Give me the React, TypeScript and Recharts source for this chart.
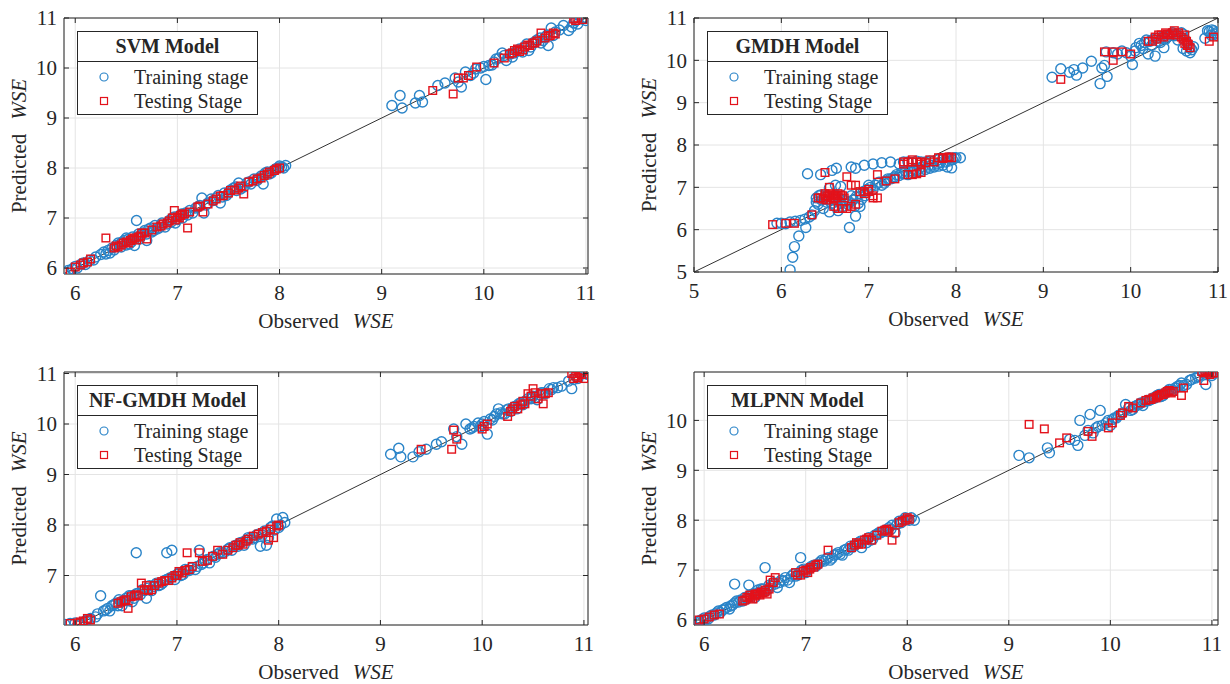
import { ScatterChart, Scatter, XAxis, YAxis, CartesianGrid, ReferenceLine, Legend } from 'recharts';

type Pt = [number, number];

const svmTrain: Pt[] = [
  [5.9, 5.9], [5.93, 5.95], [5.97, 5.98], [6.02, 6.0], [6.06, 6.08], [6.1, 6.07], [6.14, 6.15], [6.2, 6.22],
  [6.25, 6.27], [6.28, 6.32], [6.32, 6.35], [6.36, 6.4], [6.4, 6.45], [6.42, 6.5], [6.45, 6.42], [6.48, 6.55],
  [6.5, 6.6], [6.53, 6.48], [6.56, 6.62], [6.58, 6.45], [6.6, 6.95], [6.62, 6.68], [6.66, 6.7], [6.7, 6.55],
  [6.72, 6.78], [6.75, 6.72], [6.78, 6.85], [6.82, 6.8], [6.85, 6.9], [6.88, 6.82], [6.92, 6.95], [6.95, 7.0],
  [6.98, 6.9], [7.02, 7.05], [7.05, 7.0], [7.08, 7.1], [7.12, 7.15], [7.15, 7.1], [7.2, 7.22], [7.24, 7.4],
  [7.26, 7.1], [7.3, 7.3], [7.35, 7.35], [7.4, 7.45], [7.42, 7.3], [7.46, 7.5], [7.5, 7.5], [7.55, 7.6],
  [7.58, 7.55], [7.6, 7.7], [7.65, 7.62], [7.7, 7.72], [7.75, 7.78], [7.8, 7.8], [7.84, 7.68], [7.86, 7.9],
  [7.9, 7.88], [7.94, 7.95], [7.98, 8.0], [8.02, 8.02], [8.06, 8.05],
  [6.0, 6.03], [6.08, 6.1], [6.18, 6.16], [6.3, 6.28], [6.34, 6.3], [6.38, 6.36], [6.44, 6.48], [6.46, 6.52],
  [6.5, 6.46], [6.52, 6.58], [6.55, 6.52], [6.6, 6.62], [6.63, 6.58], [6.65, 6.66], [6.68, 6.75], [6.7, 6.68],
  [6.74, 6.8], [6.77, 6.75], [6.8, 6.78], [6.84, 6.86], [6.9, 6.88], [6.94, 6.92], [6.97, 7.02], [7.0, 6.97],
  [7.04, 7.08], [7.1, 7.06], [7.18, 7.2], [7.22, 7.25], [7.28, 7.26], [7.33, 7.38], [7.38, 7.4], [7.44, 7.42],
  [7.48, 7.45], [7.52, 7.56], [7.57, 7.62], [7.62, 7.58], [7.68, 7.7], [7.72, 7.68], [7.78, 7.75], [7.82, 7.84],
  [7.88, 7.92], [7.92, 7.9], [7.96, 7.98], [8.0, 8.04], [8.04, 8.0],
  [9.1, 9.25], [9.18, 9.45], [9.2, 9.2], [9.33, 9.3], [9.37, 9.45], [9.4, 9.32], [9.55, 9.65], [9.62, 9.7],
  [9.72, 9.8], [9.78, 9.62], [9.82, 9.92], [9.87, 9.85], [9.92, 9.98], [9.97, 10.0], [10.02, 9.77], [10.05, 10.05],
  [10.1, 10.12], [10.15, 10.2], [10.18, 10.3], [10.22, 10.15], [10.26, 10.28], [10.3, 10.3], [10.35, 10.38],
  [10.4, 10.42], [10.44, 10.35], [10.48, 10.5], [10.52, 10.56], [10.56, 10.5], [10.6, 10.62], [10.63, 10.45],
  [10.66, 10.8], [10.7, 10.72], [10.78, 10.85], [10.83, 10.75], [10.88, 10.9], [10.92, 10.88], [10.96, 10.98],
  [11.0, 10.95], [11.01, 11.0],
  [9.75, 9.72], [9.9, 9.9], [10.0, 10.03], [10.08, 10.06], [10.12, 10.18], [10.2, 10.25], [10.28, 10.22],
  [10.32, 10.34], [10.38, 10.32], [10.42, 10.48], [10.46, 10.42], [10.5, 10.52], [10.55, 10.6], [10.58, 10.55],
  [10.62, 10.66], [10.68, 10.65], [10.74, 10.76], [10.86, 10.82], [10.9, 10.95], [10.98, 11.0],
];
const svmTest: Pt[] = [
  [5.95, 5.92], [6.0, 6.02], [6.08, 6.1], [6.12, 6.12], [6.15, 6.18], [6.3, 6.6], [6.38, 6.4], [6.42, 6.42],
  [6.47, 6.5], [6.5, 6.52], [6.54, 6.55], [6.58, 6.6], [6.62, 6.62], [6.65, 6.7], [6.7, 6.58], [6.8, 6.82],
  [6.86, 6.88], [6.9, 6.9], [6.95, 7.0], [6.97, 7.15], [7.0, 7.02], [7.03, 7.05], [7.07, 7.08], [7.1, 6.8],
  [7.2, 7.22], [7.25, 7.12], [7.3, 7.28], [7.38, 7.38], [7.45, 7.45], [7.52, 7.55], [7.6, 7.6], [7.65, 7.48],
  [7.7, 7.72], [7.78, 7.78], [7.85, 7.85], [7.9, 7.92], [7.95, 7.95], [8.0, 8.0],
  [6.05, 6.06], [6.4, 6.44], [6.45, 6.46], [6.52, 6.5], [6.56, 6.58], [6.6, 6.56], [6.64, 6.64], [6.68, 6.7],
  [6.75, 6.76], [6.84, 6.84], [6.92, 6.94], [6.98, 6.96], [7.02, 7.0], [7.05, 7.08], [7.12, 7.12], [7.22, 7.24],
  [7.35, 7.34], [7.42, 7.44], [7.5, 7.5], [7.56, 7.56], [7.62, 7.64], [7.74, 7.74], [7.82, 7.8], [7.88, 7.88],
  [7.97, 7.98],
  [9.5, 9.55], [9.7, 9.48], [9.8, 9.8], [9.93, 10.02], [10.1, 10.1], [10.25, 10.28], [10.3, 10.35], [10.35, 10.33],
  [10.4, 10.42], [10.45, 10.45], [10.5, 10.5], [10.56, 10.7], [10.6, 10.6], [10.65, 10.65], [10.7, 10.68],
  [10.88, 10.98], [10.92, 11.0], [10.97, 10.97],
  [9.75, 9.8], [9.85, 9.85], [10.2, 10.2], [10.28, 10.3], [10.33, 10.38], [10.38, 10.36], [10.43, 10.46],
  [10.48, 10.5], [10.52, 10.54], [10.63, 10.64], [10.68, 10.7], [10.9, 10.95],
];

const gmdhTrain: Pt[] = [
  [6.1, 5.05], [6.13, 5.35], [6.15, 5.6], [6.2, 5.85], [6.28, 6.05], [5.95, 6.15], [6.0, 6.15], [6.05, 6.14],
  [6.1, 6.18], [6.16, 6.2], [6.22, 6.22], [6.27, 6.25], [6.32, 6.3], [6.35, 6.35], [6.38, 6.45], [6.4, 6.75],
  [6.42, 6.6], [6.45, 6.82], [6.48, 6.5], [6.52, 6.65], [6.55, 6.42], [6.58, 6.75], [6.62, 6.55], [6.65, 6.45],
  [6.68, 6.62], [6.72, 6.7], [6.76, 6.6], [6.8, 6.8], [6.84, 6.55], [6.88, 6.62], [6.92, 6.72], [6.96, 6.8],
  [6.3, 7.32], [6.45, 7.3], [6.58, 7.4], [6.63, 7.45], [6.8, 7.48], [6.85, 7.45], [6.95, 7.52], [7.05, 7.55],
  [7.15, 7.58], [7.25, 7.6], [6.68, 7.02], [6.55, 6.98], [6.62, 7.05], [6.78, 6.05], [6.85, 6.32], [6.9, 6.55],
  [7.0, 7.05], [7.05, 6.95], [7.1, 7.1], [7.15, 7.05], [7.2, 7.15], [7.25, 7.2], [7.3, 7.25], [7.35, 7.28],
  [7.4, 7.32], [7.45, 7.3], [7.5, 7.35], [7.55, 7.38], [7.6, 7.4], [7.65, 7.42], [7.7, 7.45], [7.75, 7.48],
  [7.8, 7.5], [7.85, 7.52], [7.9, 7.48], [7.95, 7.46], [7.45, 7.6], [7.55, 7.62], [7.65, 7.6], [7.85, 7.68],
  [7.92, 7.7], [7.98, 7.7], [8.05, 7.7],
  [6.4, 6.65], [6.43, 6.8], [6.46, 6.7], [6.5, 6.78], [6.52, 6.8], [6.55, 6.7], [6.58, 6.62], [6.6, 6.7],
  [6.62, 6.8], [6.66, 6.75], [6.7, 6.55], [6.74, 6.68], [6.78, 6.65], [6.82, 6.7], [6.86, 6.78], [6.9, 6.85],
  [6.94, 6.9], [6.98, 6.95], [7.02, 7.0], [7.08, 7.05], [7.12, 7.12], [7.18, 7.1], [7.22, 7.2], [7.28, 7.22],
  [7.32, 7.3], [7.38, 7.35], [7.42, 7.38], [7.48, 7.4], [7.52, 7.42], [7.58, 7.45], [7.62, 7.48], [7.68, 7.5],
  [7.72, 7.52], [7.78, 7.55], [7.82, 7.58], [7.88, 7.6], [7.92, 7.62], [7.96, 7.65], [8.0, 7.7], [7.35, 7.55],
  [7.4, 7.6], [7.5, 7.58], [7.6, 7.6], [7.7, 7.62], [7.8, 7.65],
  [9.1, 9.6], [9.2, 9.8], [9.3, 9.72], [9.35, 9.78], [9.38, 9.65], [9.45, 9.82], [9.55, 9.98], [9.65, 9.45],
  [9.67, 9.82], [9.7, 9.88], [9.73, 9.62], [9.72, 10.2], [9.8, 10.18], [9.85, 10.15], [9.9, 10.22], [9.95, 10.18],
  [10.0, 10.1], [10.02, 9.9], [10.06, 10.3], [10.1, 10.4], [10.14, 10.28], [10.18, 10.48], [10.2, 10.15],
  [10.24, 10.35], [10.28, 10.1], [10.3, 10.52], [10.34, 10.42], [10.38, 10.3], [10.42, 10.55], [10.46, 10.62],
  [10.5, 10.58], [10.54, 10.48], [10.58, 10.65], [10.6, 10.28], [10.64, 10.22], [10.68, 10.18], [10.72, 10.32],
  [10.85, 10.52], [10.88, 10.7], [10.92, 10.6], [10.95, 10.7], [10.98, 10.65], [11.0, 10.58],
  [10.05, 10.22], [10.12, 10.35], [10.16, 10.42], [10.22, 10.45], [10.26, 10.5], [10.32, 10.45], [10.36, 10.55],
  [10.4, 10.5], [10.44, 10.6], [10.48, 10.65], [10.52, 10.62], [10.56, 10.58], [10.6, 10.62], [10.62, 10.5],
  [10.65, 10.4], [10.68, 10.3], [10.7, 10.25], [10.9, 10.68], [10.93, 10.72], [10.96, 10.62],
];
const gmdhTest: Pt[] = [
  [5.9, 6.12], [6.05, 6.15], [6.15, 6.15], [6.35, 6.35], [6.45, 6.75], [6.5, 6.8], [6.52, 6.7], [6.55, 6.85],
  [6.6, 6.8], [6.62, 6.75], [6.65, 6.85], [6.7, 6.8], [6.5, 7.35], [6.55, 7.0], [6.75, 7.25], [6.8, 7.05],
  [6.85, 7.05], [6.95, 6.9], [7.0, 6.9], [7.05, 6.75], [7.1, 6.75], [7.1, 7.3], [6.7, 6.5], [6.8, 6.55],
  [6.85, 6.6], [6.65, 6.5], [7.2, 7.15], [7.3, 7.2], [7.4, 7.6], [7.45, 7.6], [7.5, 7.65], [7.55, 7.6],
  [7.6, 7.55], [7.7, 7.65], [7.75, 7.6], [7.8, 7.7], [7.85, 7.7], [7.9, 7.7], [7.95, 7.7], [7.45, 7.3], [7.5, 7.3],
  [6.42, 6.75], [6.48, 6.72], [6.5, 6.85], [6.53, 6.78], [6.56, 6.75], [6.58, 6.82], [6.6, 6.72], [6.63, 6.8],
  [6.68, 6.82], [6.72, 6.75], [6.9, 6.9], [6.95, 6.85], [7.0, 6.95], [7.05, 6.8], [6.6, 6.55], [6.75, 6.5],
  [7.4, 7.55], [7.5, 7.6], [7.6, 7.6], [7.65, 7.58], [7.85, 7.68], [7.92, 7.72], [7.55, 7.32], [7.6, 7.35],
  [9.2, 9.55], [9.7, 10.2], [9.8, 10.2], [9.8, 10.0], [9.9, 10.2], [10.0, 10.15], [10.2, 10.45], [10.3, 10.5],
  [10.35, 10.6], [10.4, 10.65], [10.45, 10.6], [10.5, 10.7], [10.55, 10.65], [10.6, 10.5], [10.62, 10.4],
  [10.65, 10.35], [10.68, 10.3], [10.9, 10.45], [10.95, 10.55],
  [10.25, 10.45], [10.28, 10.55], [10.32, 10.6], [10.38, 10.55], [10.42, 10.62], [10.48, 10.65], [10.52, 10.6],
  [10.58, 10.55], [10.62, 10.6], [10.64, 10.45], [10.66, 10.38],
];

const nfTrain: Pt[] = [
  [5.9, 6.03], [5.95, 6.05], [6.0, 6.06], [6.05, 6.03], [6.1, 6.1], [6.15, 6.15], [6.2, 6.18], [6.25, 6.6],
  [6.28, 6.3], [6.32, 6.35], [6.36, 6.4], [6.4, 6.45], [6.43, 6.52], [6.46, 6.4], [6.5, 6.55], [6.53, 6.6],
  [6.56, 6.48], [6.6, 7.45], [6.62, 6.65], [6.66, 6.72], [6.7, 6.55], [6.73, 6.8], [6.77, 6.78], [6.8, 6.85],
  [6.84, 6.82], [6.88, 6.9], [6.9, 7.45], [6.95, 7.5], [6.93, 6.95], [6.98, 6.92], [7.02, 7.05], [7.06, 7.02],
  [7.1, 7.1], [7.14, 7.15], [7.18, 7.12], [7.22, 7.5], [7.24, 7.22], [7.28, 7.3], [7.32, 7.25], [7.36, 7.38],
  [7.4, 7.42], [7.45, 7.45], [7.5, 7.52], [7.54, 7.5], [7.58, 7.6], [7.62, 7.65], [7.66, 7.6], [7.7, 7.75],
  [7.74, 7.72], [7.78, 7.8], [7.82, 7.58], [7.86, 7.88], [7.9, 7.75], [7.94, 7.98], [7.98, 8.12], [8.0, 7.95],
  [8.04, 8.15], [8.06, 8.05],
  [6.02, 6.0], [6.12, 6.12], [6.22, 6.24], [6.3, 6.32], [6.34, 6.3], [6.38, 6.42], [6.42, 6.4], [6.45, 6.48],
  [6.48, 6.5], [6.52, 6.5], [6.55, 6.6], [6.58, 6.55], [6.6, 6.64], [6.64, 6.62], [6.68, 6.7], [6.72, 6.75],
  [6.75, 6.7], [6.79, 6.82], [6.82, 6.8], [6.86, 6.85], [6.9, 6.92], [6.96, 6.98], [7.0, 7.02], [7.04, 7.0],
  [7.08, 7.12], [7.12, 7.1], [7.2, 7.18], [7.26, 7.25], [7.3, 7.32], [7.38, 7.36], [7.42, 7.45], [7.48, 7.48],
  [7.52, 7.55], [7.56, 7.58], [7.6, 7.58], [7.64, 7.66], [7.68, 7.7], [7.72, 7.74], [7.76, 7.75], [7.8, 7.82],
  [7.84, 7.8], [7.88, 7.6], [7.92, 7.95], [7.96, 7.9], [8.02, 8.0],
  [9.1, 9.4], [9.18, 9.52], [9.2, 9.35], [9.32, 9.35], [9.38, 9.45], [9.45, 9.5], [9.55, 9.6], [9.6, 9.65],
  [9.72, 9.9], [9.75, 9.75], [9.8, 9.6], [9.84, 10.0], [9.88, 9.9], [9.92, 9.95], [9.96, 10.02], [10.0, 10.0],
  [10.05, 9.8], [10.08, 10.1], [10.12, 10.15], [10.16, 10.3], [10.2, 10.2], [10.24, 10.28], [10.28, 10.25],
  [10.32, 10.35], [10.36, 10.4], [10.4, 10.38], [10.45, 10.5], [10.5, 10.55], [10.54, 10.48], [10.58, 10.62],
  [10.62, 10.6], [10.66, 10.7], [10.7, 10.72], [10.78, 10.75], [10.85, 10.85], [10.88, 10.7], [10.92, 10.95],
  [10.96, 11.0], [11.02, 11.0], [11.04, 10.98],
  [9.9, 9.92], [9.98, 9.95], [10.02, 10.05], [10.1, 10.08], [10.14, 10.2], [10.18, 10.22], [10.22, 10.2],
  [10.26, 10.3], [10.3, 10.32], [10.34, 10.3], [10.38, 10.42], [10.42, 10.45], [10.48, 10.5], [10.52, 10.52],
  [10.56, 10.58], [10.6, 10.62], [10.68, 10.68], [10.74, 10.72], [10.9, 10.88], [10.94, 10.9], [11.0, 11.0],
];
const nfTest: Pt[] = [
  [5.95, 6.05], [6.02, 6.06], [6.08, 6.1], [6.12, 6.15], [6.15, 6.12], [6.42, 6.45], [6.48, 6.5], [6.52, 6.35],
  [6.55, 6.58], [6.6, 6.62], [6.65, 6.85], [6.7, 6.8], [6.75, 6.72], [6.82, 6.85], [6.88, 6.9], [6.95, 6.95],
  [7.0, 7.0], [7.02, 7.08], [7.08, 7.1], [7.1, 7.45], [7.15, 7.18], [7.22, 7.45], [7.25, 7.28], [7.4, 7.5],
  [7.45, 7.42], [7.55, 7.55], [7.6, 7.6], [7.65, 7.62], [7.7, 7.72], [7.8, 7.82], [7.88, 7.88], [7.9, 7.7],
  [7.95, 7.75], [8.0, 8.0],
  [6.05, 6.08], [6.45, 6.48], [6.5, 6.52], [6.58, 6.6], [6.62, 6.6], [6.68, 6.72], [6.72, 6.7], [6.78, 6.8],
  [6.85, 6.88], [6.92, 6.9], [6.98, 7.0], [7.05, 7.05], [7.12, 7.12], [7.3, 7.3], [7.35, 7.38], [7.5, 7.5],
  [7.58, 7.6], [7.62, 7.65], [7.68, 7.68], [7.75, 7.78], [7.84, 7.85], [7.92, 7.92], [7.98, 7.98],
  [9.4, 9.5], [9.7, 9.5], [9.72, 9.88], [9.75, 9.7], [10.0, 9.9], [10.05, 10.0], [10.25, 10.15], [10.3, 10.3],
  [10.35, 10.3], [10.4, 10.45], [10.45, 10.6], [10.5, 10.7], [10.55, 10.5], [10.6, 10.4], [10.62, 10.6],
  [10.88, 11.0], [10.92, 10.95], [10.96, 11.0], [11.0, 10.9], [10.9, 10.9],
  [10.02, 9.95], [10.28, 10.25], [10.32, 10.35], [10.38, 10.38], [10.42, 10.4], [10.48, 10.55], [10.52, 10.62],
  [10.58, 10.6], [10.65, 10.62], [10.94, 10.92], [10.98, 10.98],
];

const mlpTrain: Pt[] = [
  [5.88, 5.9], [5.92, 5.95], [5.97, 6.0], [6.02, 6.02], [6.06, 6.08], [6.1, 6.1], [6.14, 6.18], [6.18, 6.2],
  [6.22, 6.25], [6.25, 6.22], [6.28, 6.3], [6.3, 6.72], [6.32, 6.38], [6.36, 6.4], [6.4, 6.45], [6.44, 6.7],
  [6.45, 6.5], [6.48, 6.52], [6.5, 6.45], [6.53, 6.6], [6.56, 6.62], [6.6, 7.05], [6.6, 6.58], [6.64, 6.7],
  [6.68, 6.75], [6.72, 6.65], [6.76, 6.8], [6.8, 6.85], [6.84, 6.75], [6.88, 6.92], [6.92, 6.9], [6.95, 7.25],
  [6.96, 7.0], [7.0, 6.95], [7.04, 7.05], [7.08, 7.1], [7.12, 7.12], [7.16, 7.2], [7.2, 7.22], [7.24, 7.2],
  [7.28, 7.3], [7.32, 7.35], [7.36, 7.3], [7.4, 7.42], [7.44, 7.48], [7.48, 7.5], [7.52, 7.55], [7.55, 7.45],
  [7.58, 7.6], [7.62, 7.65], [7.66, 7.62], [7.7, 7.72], [7.74, 7.75], [7.78, 7.8], [7.82, 7.85], [7.85, 7.9],
  [7.88, 7.75], [7.92, 7.98], [7.96, 8.0], [8.0, 8.02], [8.04, 8.05], [8.07, 8.0],
  [5.95, 5.98], [6.0, 6.04], [6.04, 6.02], [6.08, 6.1], [6.12, 6.14], [6.16, 6.15], [6.2, 6.22], [6.26, 6.28],
  [6.3, 6.34], [6.34, 6.36], [6.38, 6.38], [6.42, 6.42], [6.46, 6.48], [6.5, 6.52], [6.54, 6.55], [6.58, 6.62],
  [6.62, 6.6], [6.66, 6.68], [6.7, 6.72], [6.74, 6.75], [6.78, 6.78], [6.82, 6.8], [6.86, 6.88], [6.9, 6.88],
  [6.94, 6.95], [6.98, 7.02], [7.02, 7.0], [7.06, 7.08], [7.1, 7.08], [7.14, 7.16], [7.18, 7.18], [7.22, 7.25],
  [7.26, 7.24], [7.3, 7.32], [7.34, 7.32], [7.38, 7.4], [7.42, 7.4], [7.46, 7.46], [7.5, 7.52], [7.54, 7.58],
  [7.6, 7.55], [7.64, 7.6], [7.68, 7.7], [7.72, 7.75], [7.76, 7.78], [7.8, 7.78], [7.84, 7.82], [7.9, 7.92],
  [7.94, 7.95], [7.98, 8.05], [8.02, 8.0],
  [9.1, 9.3], [9.2, 9.25], [9.38, 9.45], [9.4, 9.35], [9.65, 9.6], [9.68, 9.5], [9.7, 10.0], [9.75, 9.7],
  [9.8, 10.12], [9.83, 9.75], [9.86, 9.85], [9.9, 10.2], [9.92, 9.9], [9.96, 9.95], [10.0, 9.9], [10.04, 10.05],
  [10.08, 10.1], [10.12, 10.15], [10.15, 10.32], [10.18, 10.25], [10.22, 10.22], [10.26, 10.3], [10.3, 10.35],
  [10.34, 10.38], [10.38, 10.4], [10.42, 10.45], [10.46, 10.5], [10.5, 10.48], [10.54, 10.55], [10.58, 10.62],
  [10.62, 10.6], [10.66, 10.68], [10.7, 10.75], [10.75, 10.72], [10.8, 10.82], [10.86, 10.88], [10.9, 10.98],
  [10.94, 10.72], [10.97, 10.95], [11.0, 10.9], [11.04, 10.98],
  [9.6, 9.62], [9.78, 9.8], [9.88, 9.88], [9.98, 10.0], [10.02, 10.02], [10.06, 10.05], [10.1, 10.12],
  [10.2, 10.2], [10.24, 10.28], [10.28, 10.32], [10.32, 10.3], [10.36, 10.4], [10.4, 10.42], [10.44, 10.45],
  [10.48, 10.52], [10.52, 10.5], [10.56, 10.58], [10.6, 10.62], [10.64, 10.65], [10.68, 10.7], [10.72, 10.7],
  [10.78, 10.8], [10.84, 10.85], [10.88, 10.9], [10.92, 10.95], [10.96, 11.0], [11.02, 10.95],
];
const mlpTest: Pt[] = [
  [5.95, 6.0], [6.0, 6.02], [6.1, 6.1], [6.15, 6.12], [6.4, 6.4], [6.42, 6.45], [6.45, 6.5], [6.48, 6.42],
  [6.5, 6.48], [6.52, 6.52], [6.55, 6.5], [6.58, 6.55], [6.6, 6.6], [6.62, 6.52], [6.65, 6.8], [6.7, 6.85],
  [6.9, 6.95], [6.95, 6.9], [7.0, 7.0], [7.02, 6.95], [7.05, 7.05], [7.1, 7.1], [7.22, 7.4], [7.45, 7.45],
  [7.5, 7.55], [7.55, 7.52], [7.6, 7.62], [7.65, 7.6], [7.75, 7.78], [7.8, 7.82], [7.85, 7.6], [7.88, 7.75],
  [7.92, 7.95], [8.0, 8.05], [8.02, 8.02],
  [6.05, 6.06], [6.38, 6.38], [6.44, 6.46], [6.46, 6.44], [6.5, 6.52], [6.54, 6.52], [6.56, 6.56], [6.6, 6.56],
  [6.64, 6.62], [6.68, 6.75], [6.92, 6.9], [6.98, 6.98], [7.04, 7.02], [7.08, 7.06], [7.12, 7.12], [7.48, 7.5],
  [7.52, 7.52], [7.58, 7.6], [7.62, 7.65], [7.7, 7.7], [7.78, 7.8], [7.82, 7.78], [7.95, 7.98], [7.98, 8.0],
  [9.2, 9.92], [9.35, 9.83], [9.5, 9.55], [9.57, 9.65], [9.78, 9.78], [9.82, 9.68], [9.98, 9.85], [10.02, 9.95],
  [10.1, 10.1], [10.18, 10.28], [10.3, 10.35], [10.38, 10.42], [10.45, 10.45], [10.48, 10.5], [10.52, 10.52],
  [10.56, 10.58], [10.6, 10.55], [10.7, 10.5], [10.9, 10.98], [10.95, 11.0], [10.98, 10.92], [10.92, 10.8],
  [11.0, 10.95],
  [10.12, 10.15], [10.22, 10.25], [10.35, 10.4], [10.4, 10.42], [10.42, 10.45], [10.46, 10.48], [10.5, 10.52],
  [10.54, 10.55], [10.58, 10.6], [10.62, 10.58], [10.72, 10.65], [10.93, 11.0], [10.97, 10.98], [11.02, 10.95],
];

const WSE_TICKS = [6, 7, 8, 9, 10, 11];
const GMDH_TICKS = [5, 6, 7, 8, 9, 10, 11];
const NF_Y_TICKS = [7, 8, 9, 10, 11];
const MLP_Y_TICKS = [6, 7, 8, 9, 10];

const FONT = '"Liberation Serif", "Times New Roman", serif';
const INK = '#262626';
const BLUE = '#2a84c8';
const RED = '#e3121b';
const W = 615;
const H = 342;

const toXY = (pts: Pt[]) => pts.map(([x, y]) => ({ x, y }));

const Circle = (p: any) => <circle cx={p.cx} cy={p.cy} r={5} fill="none" stroke={BLUE} strokeWidth={1.4} />;
const Square = (p: any) => (
  <rect x={p.cx - 3.8} y={p.cy - 3.8} width={7.6} height={7.6} fill="none" stroke={RED} strokeWidth={1.4} />
);

// MATLAB style: ticks point into the box
const BottomTick = (p: any) => (
  <g>
    <line x1={p.x} x2={p.x} y1={p.y} y2={p.y - 5} stroke={INK} />
    <text x={p.x} y={p.y + 26} textAnchor="middle" fontFamily={FONT} fontSize={21} fill={INK}>
      {p.payload.value}
    </text>
  </g>
);
const LeftTick = (p: any) => (
  <g>
    <line x1={p.x} x2={p.x + 5} y1={p.y} y2={p.y} stroke={INK} />
    <text x={p.x - 7} y={p.y} dy="0.35em" textAnchor="end" fontFamily={FONT} fontSize={21} fill={INK}>
      {p.payload.value}
    </text>
  </g>
);
const TopTick = (p: any) => <line x1={p.x} x2={p.x} y1={p.y} y2={p.y + 5} stroke={INK} />;
const RightTick = (p: any) => <line x1={p.x} x2={p.x - 5} y1={p.y} y2={p.y} stroke={INK} />;

const XTitle = (p: any) => {
  const vb = p.viewBox;
  return (
    <text x={vb.x + vb.width / 2} y={vb.y + 54} textAnchor="middle" fontFamily={FONT} fontSize={21} fill={INK}>
      Observed<tspan dx={14} fontStyle="italic">WSE</tspan>
    </text>
  );
};
const YTitle = (p: any) => {
  const vb = p.viewBox;
  const cx = vb.x + vb.width - 45;
  const cy = vb.y + vb.height / 2;
  return (
    <text x={cx} y={cy} dy="0.35em" textAnchor="middle" transform={`rotate(-90 ${cx} ${cy})`}
      fontFamily={FONT} fontSize={21} fill={INK}>
      Predicted<tspan dx={14} fontStyle="italic">WSE</tspan>
    </text>
  );
};

function LegendBox({ title }: { title: string }) {
  const row = { height: 24, display: 'flex', alignItems: 'center', fontSize: 20 } as const;
  return (
    <div style={{ width: 181, height: 84, boxSizing: 'border-box', border: `1px solid ${INK}`, background: '#fff',
      fontFamily: FONT, color: INK }}>
      <div style={{ height: 29, lineHeight: '29px', borderBottom: `1px solid ${INK}`, textAlign: 'center',
        fontWeight: 'bold', fontSize: 20 }}>{title}</div>
      <div style={{ paddingTop: 3 }}>
        <div style={row}>
          <svg width={56} height={24}><circle cx={26} cy={12} r={4} fill="none" stroke={BLUE} strokeWidth={1.2} /></svg>
          <span>Training stage</span>
        </div>
        <div style={row}>
          <svg width={56} height={24}><rect x={22.5} y={8.5} width={7} height={7} fill="none" stroke={RED} strokeWidth={1.2} /></svg>
          <span>Testing Stage</span>
        </div>
      </div>
    </div>
  );
}

type Box = { left: number; right: number; top: number; bottom: number };
type PanelProps = {
  title: string; train: Pt[]; test: Pt[]; xDomain: number[]; yDomain: number[];
  xTicks: number[]; yTicks: number[]; diag: number[]; left: number; top: number; plot: Box;
};

function Panel({ title, train, test, xDomain, yDomain, xTicks, yTicks, diag, left, top, plot }: PanelProps) {
  // every axis is 1px thick so it still renders; margins put the plot box where the reference has it
  const margin = { top: plot.top - 1, right: W - plot.right - 1, bottom: H - plot.bottom - 1, left: plot.left - 1 };
  const axisLine = { stroke: INK, strokeWidth: 1 };
  const common = { type: 'number' as const, interval: 0, allowDataOverflow: true, tickSize: 0, tickMargin: 0, tickLine: false, axisLine };
  return (
    <div style={{ position: 'absolute', left, top }}>
      <ScatterChart width={W} height={H} margin={margin}>
        <CartesianGrid stroke="#e4e4e4" xAxisId="b" yAxisId="l" />
        <XAxis xAxisId="b" dataKey="x" domain={xDomain} ticks={xTicks} height={1} tick={BottomTick}
          label={{ content: XTitle }} {...common} />
        <XAxis xAxisId="t" orientation="top" dataKey="x" domain={xDomain} ticks={xTicks} height={1} tick={TopTick} {...common} />
        <YAxis yAxisId="l" dataKey="y" domain={yDomain} ticks={yTicks} width={1} tick={LeftTick}
          label={{ content: YTitle }} {...common} />
        <YAxis yAxisId="r" orientation="right" dataKey="y" domain={yDomain} ticks={yTicks} width={1} tick={RightTick} {...common} />
        <Scatter name="Training stage" data={toXY(train)} xAxisId="b" yAxisId="l" shape={Circle} isAnimationActive={false} />
        <Scatter name="Testing Stage" data={toXY(test)} xAxisId="b" yAxisId="l" shape={Square} isAnimationActive={false} />
        <ReferenceLine xAxisId="b" yAxisId="l" segment={[{ x: diag[0], y: diag[0] }, { x: diag[1], y: diag[1] }]}
          stroke="#333" strokeWidth={1} ifOverflow="visible" />
        <Legend layout="horizontal" verticalAlign="middle" align="center" width={181} height={84}
          wrapperStyle={{ left: plot.left + 13, top: plot.top + 13, width: 181, height: 84 }}
          content={() => <LegendBox title={title} />} />
      </ScatterChart>
    </div>
  );
}

export default function App() {
  return (
    <div style={{ position: 'absolute', left: 0, top: 0, width: 1230, height: 684, background: '#fff' }}>
      <Panel title="SVM Model" train={svmTrain} test={svmTest} xDomain={[5.89, 11.02]} yDomain={[5.88, 11]}
        xTicks={WSE_TICKS} yTicks={WSE_TICKS} diag={[5.9, 11]} left={0} top={0}
        plot={{ left: 64, right: 588, top: 18, bottom: 274 }} />
      <Panel title="GMDH Model" train={gmdhTrain} test={gmdhTest} xDomain={[5, 11]} yDomain={[5, 11]}
        xTicks={GMDH_TICKS} yTicks={GMDH_TICKS} diag={[5, 11]} left={615} top={0}
        plot={{ left: 79, right: 603, top: 18, bottom: 272 }} />
      <Panel title="NF-GMDH Model" train={nfTrain} test={nfTest} xDomain={[5.89, 11.04]} yDomain={[6.02, 11.03]}
        xTicks={WSE_TICKS} yTicks={NF_Y_TICKS} diag={[6.02, 11.03]} left={0} top={342}
        plot={{ left: 64, right: 588, top: 30, bottom: 283 }} />
      <Panel title="MLPNN Model" train={mlpTrain} test={mlpTest} xDomain={[5.9, 11.06]} yDomain={[5.9, 10.97]}
        xTicks={WSE_TICKS} yTicks={MLP_Y_TICKS} diag={[5.9, 10.97]} left={615} top={342}
        plot={{ left: 79, right: 603, top: 30, bottom: 283 }} />
    </div>
  );
}
